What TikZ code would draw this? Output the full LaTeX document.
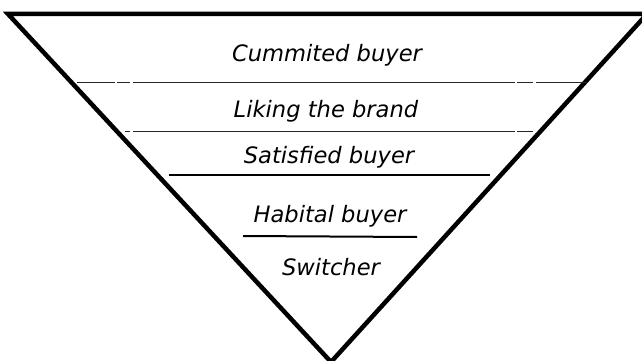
\documentclass[tikz,border=0pt]{standalone}
\usepackage{fontspec}
\usepackage{tikz}
\newfontfamily\tierfont{DejaVu Sans}
\definecolor{rulegray}{HTML}{262626}
\tikzset{
  rim/.style={line width=4.5pt,black},
  tier/.style={line width=1.8pt,rulegray},
  tierdark/.style={line width=2pt,black},
  lbl/.style={font=\tierfont\itshape\fontsize{22.6}{26}\selectfont,anchor=base,inner sep=0pt}
}

\begin{document}
\begin{tikzpicture}[x=1pt,y=-1pt]
\useasboundingbox (0,0) rectangle (642,361);
\draw[rim] (8,14) -- (647,14) -- (331,362) -- cycle;
\draw[tier] (77,82.5) -- (115,82.5) (117,82.5) -- (130,82.5) (133,82.5) -- (515,82.5)
  (517,82.5) -- (533,82.5) (536,82.5) -- (587,82.5);
\draw[tier] (125,131.5) -- (130,131.5) (133,131.5) -- (515,131.5) (517,131.5) -- (533,131.5);
\draw[tierdark] (169,175) -- (490,175);
\draw[tierdark] (243,236) -- (417,237);
\node[lbl] (committed) at (327,61.7) {Cummited buyer};
\node[lbl] (liking) at (326,117) {Liking the brand};
\node[lbl] (satisfied) at (329,163) {Satisfied buyer};
\node[lbl] (habitual) at (330,222) {Habital buyer};
\node[lbl] (switcher) at (331,275) {Switcher};
\end{tikzpicture}
\end{document}
